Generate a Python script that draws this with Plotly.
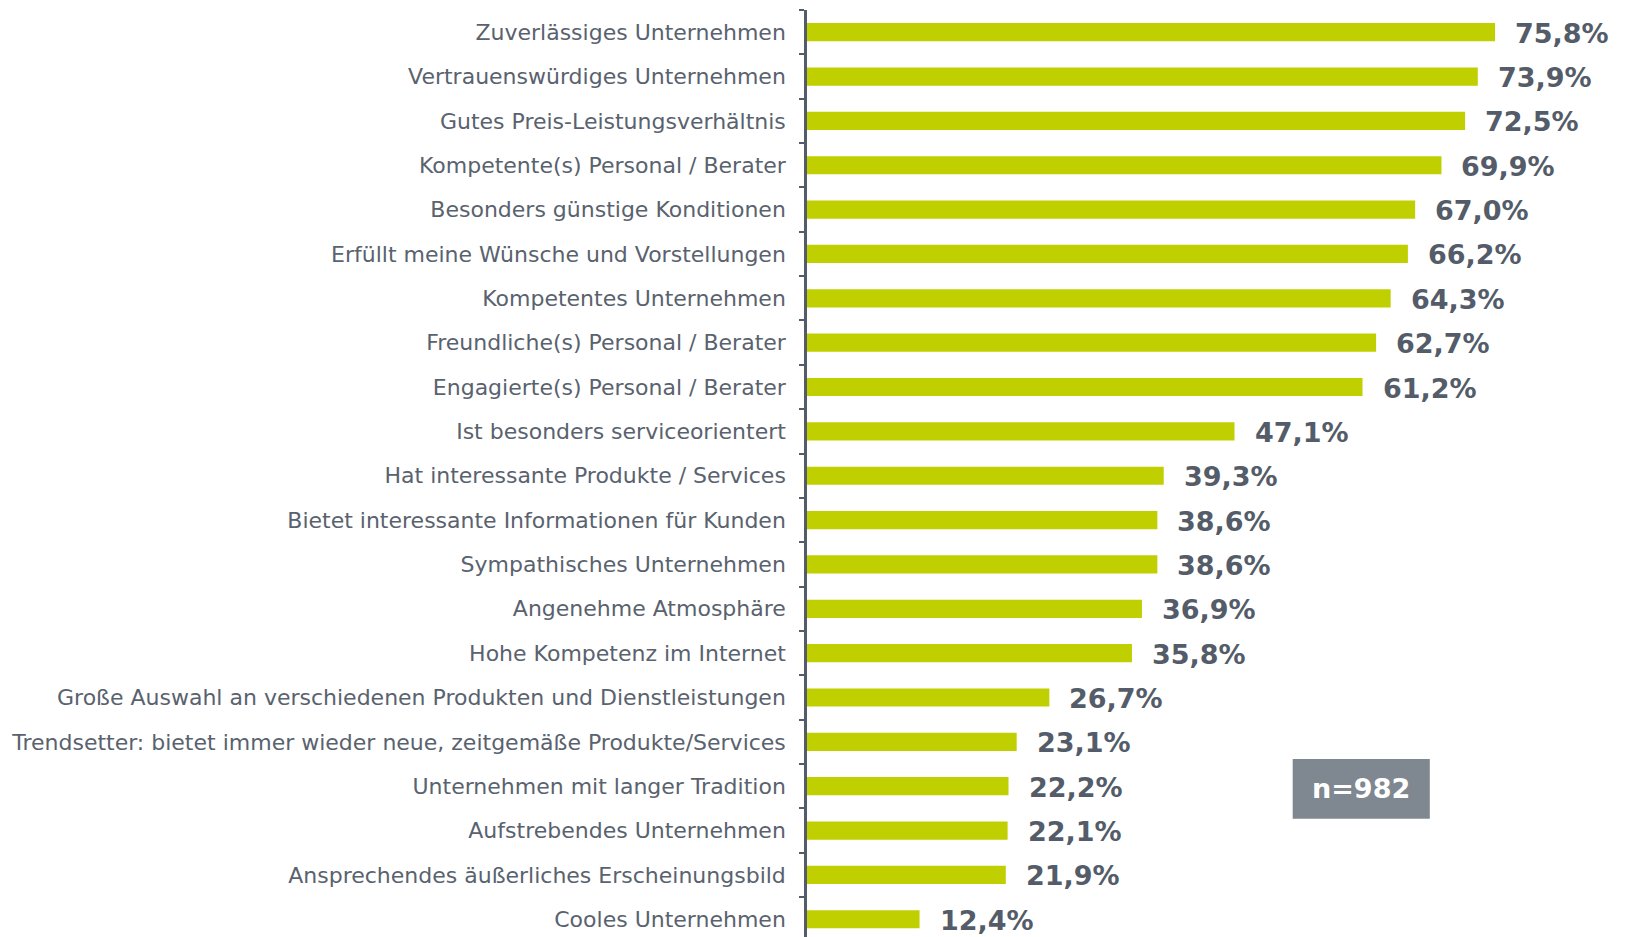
import plotly.graph_objects as go

categories = [
    "Zuverlässiges Unternehmen",
    "Vertrauenswürdiges Unternehmen",
    "Gutes Preis-Leistungsverhältnis",
    "Kompetente(s) Personal / Berater",
    "Besonders günstige Konditionen",
    "Erfüllt meine Wünsche und Vorstellungen",
    "Kompetentes Unternehmen",
    "Freundliche(s) Personal / Berater",
    "Engagierte(s) Personal / Berater",
    "Ist besonders serviceorientert",
    "Hat interessante Produkte / Services",
    "Bietet interessante Informationen für Kunden",
    "Sympathisches Unternehmen",
    "Angenehme Atmosphäre",
    "Hohe Kompetenz im Internet",
    "Große Auswahl an verschiedenen Produkten und Dienstleistungen",
    "Trendsetter: bietet immer wieder neue, zeitgemäße Produkte/Services",
    "Unternehmen mit langer Tradition",
    "Aufstrebendes Unternehmen",
    "Ansprechendes äußerliches Erscheinungsbild",
    "Cooles Unternehmen",
]
values = [75.8, 73.9, 72.5, 69.9, 67.0, 66.2, 64.3, 62.7, 61.2, 47.1, 39.3,
          38.6, 38.6, 36.9, 35.8, 26.7, 23.1, 22.2, 22.1, 21.9, 12.4]
value_labels = [f"{v:.1f}%".replace(".", ",") for v in values]
sample_note = "n=982"

BAR = "#bfcf00"
DARK = "#535c68"
LABEL = "#59626e"

fig = go.Figure()
fig.add_trace(go.Bar(
    x=values, y=categories, orientation="h",
    marker=dict(color=BAR, line=dict(width=0)),
    hoverinfo="skip",
))

for c, v, t in zip(categories, values, value_labels):
    fig.add_annotation(
        x=v, y=c, text=t, showarrow=False, xanchor="left", yanchor="middle",
        xshift=18, yshift=-1,
        font=dict(family="DejaVu Sans", size=27, color=DARK, weight="bold"),
    )

fig.add_shape(type="rect", xref="paper", yref="paper",
              x0=0.588, x1=0.754, y0=0.135, y1=0.199,
              fillcolor="#7f8790", line=dict(width=0), layer="above")
fig.add_annotation(xref="paper", yref="paper", x=0.671, y=0.167,
                   text=sample_note, showarrow=False,
                   xanchor="center", yanchor="middle",
                   font=dict(family="DejaVu Sans", size=27, color="white", weight="bold"))

fig.update_layout(
    width=1625, height=937,
    margin=dict(l=799, r=0, t=2, b=0, autoexpand=False),
    paper_bgcolor="white", plot_bgcolor="white",
    bargap=0.59,
    showlegend=False,
    xaxis=dict(range=[0, 91.0], visible=False, fixedrange=True),
    yaxis=dict(
        type="category",
        categoryorder="array", categoryarray=categories,
        range=[20.58, -0.5],
        showline=True, linecolor=DARK, linewidth=2.5,
        ticks="outside", ticklen=5, tickwidth=1.5, tickcolor=DARK,
        tickson="boundaries",
        showgrid=False, zeroline=False,
        tickfont=dict(family="DejaVu Sans", size=22, color=LABEL),
        ticklabelstandoff=14,
        automargin=False,
    ),
)

fig.write_html("out.html")
